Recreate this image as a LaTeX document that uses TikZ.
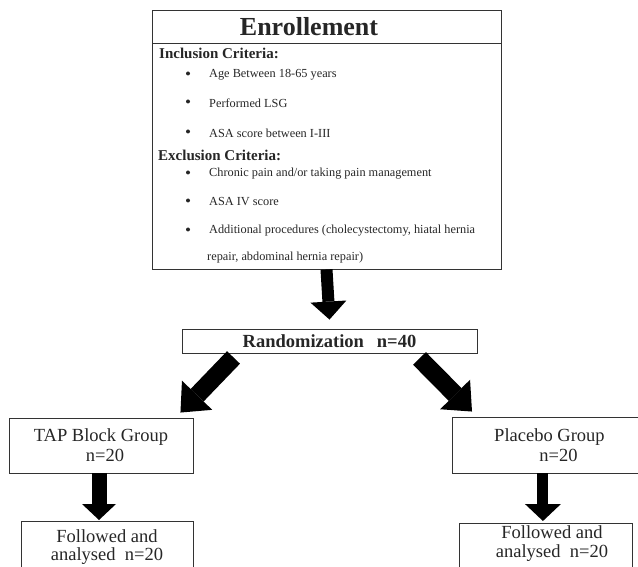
\documentclass[tikz,border=0pt]{standalone}
\usepackage{fontspec}
\setmainfont{Liberation Serif}
\usetikzlibrary{arrows.meta,positioning,calc}
\tikzset{
	box/.style = {
		draw=black!80, 
		rectangle, 
		line width=0.9pt, 
		inner sep=0pt, 
		align=center, 
		text=black!85,
		font=\fontsize{18.5}{20}\selectfont
	},
	txt/.style = {
		align=center, 
		inner sep=0pt, 
		text=black!85,
		font=\fontsize{18.5}{18.5}\selectfont
	},
	head/.style = {
		anchor=west, 
		inner sep=0pt, 
		text=black!85,
		font=\bfseries\fontsize{15}{17}\selectfont
	},
	item/.style = {
		anchor=west, 
		inner sep=0pt, 
		text=black!85,
		font=\fontsize{12.3}{14}\selectfont
	},
	dot/.style = {
		circle, 
		fill=black!85, 
		inner sep=0pt, 
		minimum size=4pt
	},
	bigarrow/.style = {
		draw=black, 
		line width=#1, 
		-{Triangle[length=18pt, width=36pt, line width=0pt]}
	},
	bigarrow/.default=12pt
}

\begin{document}
\begin{tikzpicture}[x=1pt, y=-1pt]
	\useasboundingbox (0,0) rectangle (638,567);
	
	% --- Enrollment ---
	\node[box, minimum width=349pt, minimum height=259pt] (enroll) at (326.5,139.5) {};
	\node[box, minimum width=349pt, minimum height=33pt, anchor=north, 
	font=\bfseries\fontsize{26}{28}\selectfont] (enrtitle) at (enroll.north) 
	{\raisebox{-2.5pt}{Enrollement}\hspace*{35pt}};
	
	% Inclusion criteria
	\node[head] (incl) at (159,53) {Inclusion Criteria:};
	\foreach \y/\txt [count=\i] in {75/{Age Between 18-65 years}, 
		103/{Performed LSG}, 133/{ASA score between I-III}} {
		\node[dot] (ibul\i) at (188,\y-1.5) {};
		\node[item] (inc\i) at (209,\y) {\txt};
	}
	
	% Exclusion criteria
	\node[head] (excl) at (158,155) {Exclusion Criteria:};
	\foreach \y/\txt [count=\i] in {174/{Chronic pain and/or taking pain management}, 
		202/{ASA IV score}, 231/{Additional procedures (cholecystectomy, hiatal hernia}} {
		\node[dot] (ebul\i) at (188,\y-1.5) {};
		\node[item] (exc\i) at (209,\y) {\txt};
	}
	\node[item] (exc4) at (207,258) {repair, abdominal hernia repair)};
	
	% --- Randomization ---
	\node[box, minimum width=295pt, minimum height=24pt, 
	font=\bfseries\fontsize{18.5}{20}\selectfont] (rand) at (329.5,341) 
	{Randomization\hspace{0.7em}n=40};
	
	% --- Groups (placebo box runs past the right edge) ---
	\node[box, minimum width=184pt, minimum height=55pt] (tap) at (101,445.5) 
	{TAP Block Group\\\hspace*{8pt}n=20};
	\node[box, minimum width=260pt, minimum height=56pt, anchor=west] (plac) at (452,445) 
	{Placebo Group\hspace*{66pt}\\n=20\hspace*{48pt}};
	
	% --- Follow up (boxes run past the bottom edge) ---
	\node[box, minimum width=172pt, minimum height=60pt, anchor=north west] (fol1) at (21,521) {};
	\node[txt] (fol1txt) at (107,547) {Followed and\\analysed\hspace{0.5em}n=20};
	\node[box, minimum width=173pt, minimum height=60pt, anchor=north west] (fol2) at (459,523) {};
	\node[txt] (fol2txt) at (552,543.5) {Followed and\\analysed\hspace{0.5em}n=20};
	
	% --- Arrows ---
	\draw[bigarrow] (enroll.south) -- ([yshift=9pt]rand.north);
	\draw[bigarrow=18pt, -{Triangle[length=24pt, width=42pt, line width=0pt]}] 
	([xshift=-96pt,yshift=-4pt]rand.south) -- ([xshift=-13pt,yshift=5pt]tap.north east);
	\draw[bigarrow=18pt, -{Triangle[length=24pt, width=42pt, line width=0pt]}] 
	([xshift=90pt,yshift=-5pt]rand.south) -- ([xshift=20pt,yshift=5pt]plac.north west);
	\draw[bigarrow=15pt, -{Triangle[length=16pt, width=34pt, line width=0pt]}] 
	([xshift=-2pt]tap.south) -- ([xshift=-2pt,yshift=1pt]tap.south |- fol1.north);
	\draw[bigarrow=11pt, -{Triangle[length=17pt, width=36pt, line width=0pt]}] 
	([xshift=-3pt]fol2.north |- plac.south) -- ([xshift=-3pt,yshift=2pt]fol2.north);
	
\end{tikzpicture}
\end{document}
